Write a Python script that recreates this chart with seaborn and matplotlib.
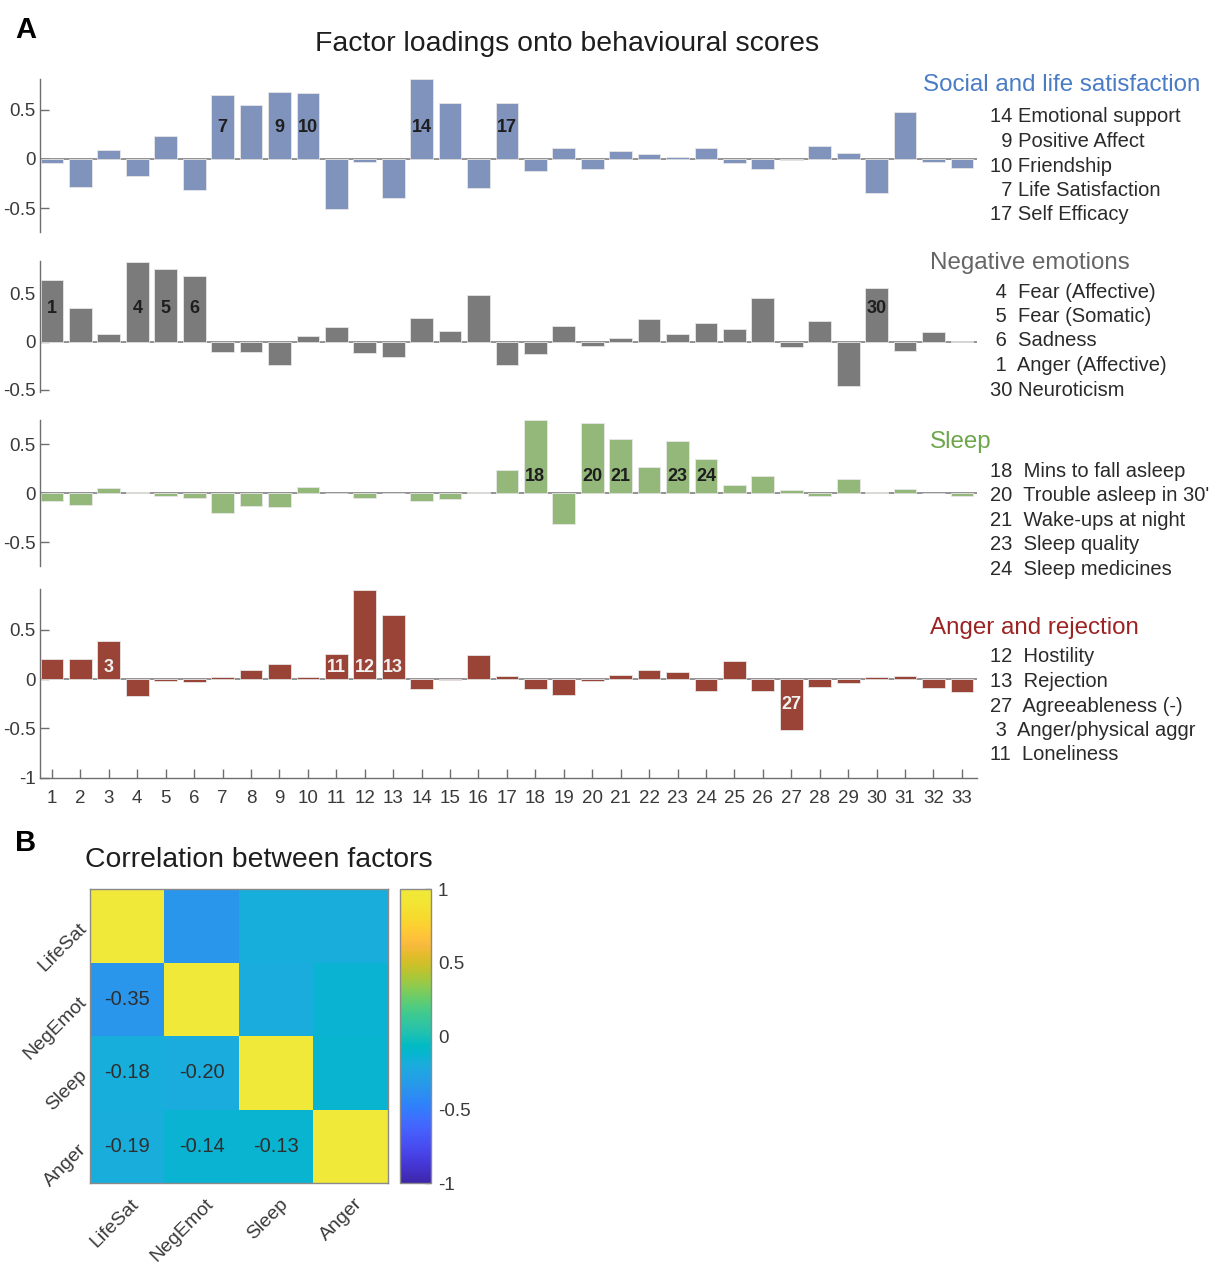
import numpy as np
import pandas as pd
import matplotlib
matplotlib.use("Agg")
import matplotlib.pyplot as plt
import matplotlib.transforms as mtransforms
from matplotlib.colors import LinearSegmentedColormap
import seaborn as sns

# ---------------------------------------------------------------- data
items = list(range(1, 34))

lifesat = [-0.04, -0.28, 0.09, -0.17, 0.23, -0.31, 0.65, 0.55, 0.68, 0.67,
           -0.51, -0.03, -0.40, 0.81, 0.57, -0.29, 0.57, -0.12, 0.11, -0.10,
           0.08, 0.05, 0.02, 0.11, -0.04, -0.10, -0.01, 0.135, 0.06, -0.34,
           0.48, -0.03, -0.09]
negemot = [0.64, 0.345, 0.083, 0.83, 0.75, 0.68, -0.11, -0.11, -0.24, 0.055,
           0.15, -0.12, -0.16, 0.24, 0.107, 0.48, -0.245, -0.13, 0.16, -0.045,
           0.04, 0.235, 0.076, 0.19, 0.13, 0.45, -0.06, 0.21, -0.465, 0.555,
           -0.093, 0.097, 0.003]
sleep = [-0.08, -0.12, 0.05, 0.014, -0.027, -0.044, -0.20, -0.13, -0.14, 0.068,
         0.003, -0.05, 0.002, -0.08, -0.058, 0.014, 0.235, 0.745, -0.31, 0.714,
         0.554, 0.27, 0.53, 0.354, 0.088, 0.173, 0.037, -0.03, 0.15, 0.01,
         0.048, 0.002, -0.027]
anger = [0.206, 0.20, 0.39, -0.17, -0.017, -0.03, 0.02, 0.088, 0.152, 0.017,
         0.253, 0.90, 0.652, -0.105, -0.014, 0.243, 0.027, -0.10, -0.166, -0.024,
         0.037, 0.088, 0.071, -0.125, 0.186, -0.125, -0.514, -0.084, -0.04, 0.017,
         0.03, -0.095, -0.135]

lifesat_marked = [7, 9, 10, 14, 17]
negemot_marked = [1, 4, 5, 6, 30]
sleep_marked = [18, 20, 21, 23, 24]
anger_marked = [3, 11, 12, 13, 27]

factor_titles = ["Social and life satisfaction", "Negative emotions",
                 "Sleep", "Anger and rejection"]
lifesat_items = ["14 Emotional support", "  9 Positive Affect", "10 Friendship",
                 "  7 Life Satisfaction", "17 Self Efficacy"]
negemot_items = [" 4  Fear (Affective)", " 5  Fear (Somatic)", " 6  Sadness",
                 " 1  Anger (Affective)", "30 Neuroticism"]
sleep_items = ["18  Mins to fall asleep", "20  Trouble asleep in 30'",
               "21  Wake-ups at night", "23  Sleep quality", "24  Sleep medicines"]
anger_items = ["12  Hostility", "13  Rejection", "27  Agreeableness (-)",
               " 3  Anger/physical aggr", "11  Loneliness"]

factors = ["LifeSat", "NegEmot", "Sleep", "Anger"]
# lower triangle, row by row: (NegEmot,LifeSat), (Sleep,LifeSat), (Sleep,NegEmot), ...
corr_lower = [-0.35, -0.18, -0.20, -0.19, -0.14, -0.13]

# ---------------------------------------------------------------- style
sns.set_theme(style="white")
plt.rcParams["font.family"] = ["Liberation Sans", "DejaVu Sans"]
plt.rcParams["axes.unicode_minus"] = False

# MATLAB-like parula colour map (slightly softened at the yellow end)
parula_pts = [
    [0.2422, 0.1504, 0.6603], [0.2578, 0.1818, 0.7511], [0.2706, 0.2147, 0.8364],
    [0.2783, 0.2559, 0.8991], [0.2813, 0.3006, 0.9414], [0.2795, 0.3447, 0.9717],
    [0.2699, 0.3892, 0.9906], [0.2440, 0.4358, 0.9988], [0.1963, 0.4847, 0.9892],
    [0.1786, 0.5289, 0.9682], [0.1687, 0.5703, 0.9359], [0.1460, 0.6091, 0.9079],
    [0.1248, 0.6459, 0.8883], [0.0952, 0.6798, 0.8598], [0.0297, 0.7082, 0.8163],
    [0.0067, 0.7312, 0.7660], [0.0964, 0.7500, 0.7120], [0.1717, 0.7670, 0.6554],
    [0.2161, 0.7843, 0.5923], [0.2906, 0.7973, 0.5188], [0.3909, 0.8029, 0.4354],
    [0.5044, 0.7993, 0.3480], [0.6174, 0.7876, 0.2612], [0.7242, 0.7698, 0.1910],
    [0.8203, 0.7498, 0.1535], [0.9035, 0.7330, 0.1774], [0.9728, 0.7298, 0.2394],
    [0.9970, 0.7659, 0.2199], [0.9892, 0.8136, 0.1885], [0.9676, 0.8539, 0.1843],
    [0.9550, 0.8835, 0.1923], [0.9480, 0.9060, 0.2064], [0.9420, 0.9150, 0.2250],
]
parula = LinearSegmentedColormap.from_list("parula", parula_pts, N=256)

W, H = 1211, 1265
fig = plt.figure(figsize=(W / 100, H / 100), dpi=100)


def px_axes(x0, y0, x1, y1):
    return fig.add_axes([x0 / W, 1 - y1 / H, (x1 - x0) / W, (y1 - y0) / H])


def px_text(x, y, s, **kw):
    return fig.text(x / W, 1 - y / H, s, **kw)


AXIS_GREY = "#6e6e6e"
TEXT_GREY = "#3a3a3a"

panels = [
    dict(vals=lifesat, marked=lifesat_marked, items=lifesat_items,
         bar="#7f93bd", title_col="#4a7cc6", lab_col="#1e1e1e",
         box=(79, 232), ylim=(-0.74, 0.81), yt=[-0.5, 0, 0.5], lab_y=0.32,
         title_xy=(923, 85), list_y=117),
    dict(vals=negemot, marked=negemot_marked, items=negemot_items,
         bar="#7b7b7b", title_col="#666666", lab_col="#1e1e1e",
         box=(260.7, 391.7), ylim=(-0.52, 0.84), yt=[-0.5, 0, 0.5], lab_y=0.34,
         title_xy=(930, 263), list_y=292),
    dict(vals=sleep, marked=sleep_marked, items=sleep_items,
         bar="#94b77a", title_col="#6ea64c", lab_col="#1e1e1e",
         box=(420, 566), ylim=(-0.742, 0.748), yt=[-0.5, 0, 0.5], lab_y=0.17,
         title_xy=(930, 442), list_y=471),
    dict(vals=anger, marked=anger_marked, items=anger_items,
         bar="#9a4437", title_col="#9b2423", lab_col="#f2f2f2",
         box=(589.3, 777.7), ylim=(-1.0, 0.91), yt=[-1, -0.5, 0, 0.5], lab_y=0.12,
         title_xy=(930, 628), list_y=657),
]

for k, p in enumerate(panels):
    ax = px_axes(40, p["box"][0], 977, p["box"][1])
    df = pd.DataFrame({"item": items, "loading": p["vals"]})
    ax.axhline(0, color="#8a8a8a", lw=1.3, zorder=0)
    sns.barplot(data=df, x="item", y="loading", order=items, ax=ax,
                color=p["bar"], saturation=1, width=0.8,
                edgecolor="#e6e6e6", linewidth=0.6, zorder=2)
    ax.set_xlim(-0.42, 32.53)
    ax.set_ylim(*p["ylim"])
    ax.set_xlabel("")
    ax.set_ylabel("")
    for side in ["top", "right"]:
        ax.spines[side].set_visible(False)
    ax.spines["left"].set_color(AXIS_GREY)
    ax.spines["left"].set_linewidth(1.0)
    ax.set_yticks(p["yt"])
    ax.set_yticklabels([f"{t:g}" for t in p["yt"]])
    ax.tick_params(axis="y", direction="in", length=6.5, width=1.0,
                   color=AXIS_GREY, labelsize=13.5, labelcolor=TEXT_GREY, pad=3,
                   left=True)
    if k < 3:
        ax.spines["bottom"].set_visible(False)
        ax.set_xticks([])
    else:
        ax.spines["bottom"].set_color(AXIS_GREY)
        ax.spines["bottom"].set_linewidth(1.0)
        ax.set_xticks(range(len(items)))
        ax.set_xticklabels([str(i) for i in items])
        ax.tick_params(axis="x", direction="in", length=6.5, width=1.0,
                       color=AXIS_GREY, labelsize=13.5, labelcolor=TEXT_GREY,
                       pad=9, bottom=True)

    # item numbers written inside the highlighted bars
    for it in p["marked"]:
        v = p["vals"][it - 1]
        y = p["lab_y"] if v > 0 else v / 2
        ax.text(items.index(it), y, str(it), ha="center", va="center",
                fontsize=13, fontweight="bold", color=p["lab_col"], zorder=3)

    # factor name and its top items
    tx, ty = p["title_xy"]
    px_text(tx, ty, factor_titles[k], fontsize=17.4, color=p["title_col"],
            ha="left", va="center")
    for j, s in enumerate(p["items"]):
        px_text(990, p["list_y"] + 24.5 * j, s, fontsize=14.5, color="#2a2a2a",
                ha="left", va="center")

px_text(26, 30, "A", fontsize=21, fontweight="bold", ha="center", va="center",
        color="black")
px_text(567, 44, "Factor loadings onto behavioural scores", fontsize=20.4,
        ha="center", va="center", color="#1e1e1e")

# ---------------------------------------------------------------- panel B
n = len(factors)
corr = np.eye(n)
annot = np.full((n, n), "", dtype=object)
idx = 0
for i in range(1, n):
    for j in range(i):
        corr[i, j] = corr[j, i] = corr_lower[idx]
        annot[i, j] = f"{corr_lower[idx]:.2f}"
        idx += 1
corr_df = pd.DataFrame(corr, index=factors, columns=factors)

hax = px_axes(90, 889, 387.7, 1183.3)
cax = px_axes(399.7, 889, 431, 1183.3)
sns.heatmap(corr_df, ax=hax, cbar_ax=cax, cmap=parula, vmin=-1, vmax=1,
            annot=annot, fmt="", annot_kws=dict(size=14.5, color="#2e2e2e"),
            linewidths=0)
for sp in hax.spines.values():
    sp.set_visible(True)
    sp.set_color("#8a8a8a")
    sp.set_linewidth(1.0)
hax.set_xticklabels(factors, rotation=45, ha="right", va="center",
                    rotation_mode="anchor")
hax.set_yticklabels(factors, rotation=45, ha="right", va="center",
                    rotation_mode="anchor")
hax.tick_params(axis="both", length=0, labelsize=14, labelcolor=TEXT_GREY)
hax.tick_params(axis="x", pad=13)
hax.tick_params(axis="y", pad=4)
shift = mtransforms.ScaledTranslation(9 / 100, 0, fig.dpi_scale_trans)
for lab in hax.get_xticklabels():
    lab.set_transform(lab.get_transform() + shift)
hax.set_xlabel("")
hax.set_ylabel("")

cbar = hax.collections[0].colorbar
cbar.set_ticks([-1, -0.5, 0, 0.5, 1])
cbar.set_ticklabels(["-1", "-0.5", "0", "0.5", "1"])
cbar.outline.set_edgecolor("#8a8a8a")
cbar.outline.set_linewidth(1.0)
cax.tick_params(direction="in", length=4, width=1.0, color="#8a8a8a",
                labelsize=13.5, labelcolor=TEXT_GREY, pad=5)

px_text(26, 843, "B", fontsize=21, fontweight="bold", ha="center", va="center",
        color="black")
px_text(85, 860, "Correlation between factors", fontsize=20.4, ha="left",
        va="center", color="#1e1e1e")

fig.savefig("out.png", dpi=100, facecolor="white")
